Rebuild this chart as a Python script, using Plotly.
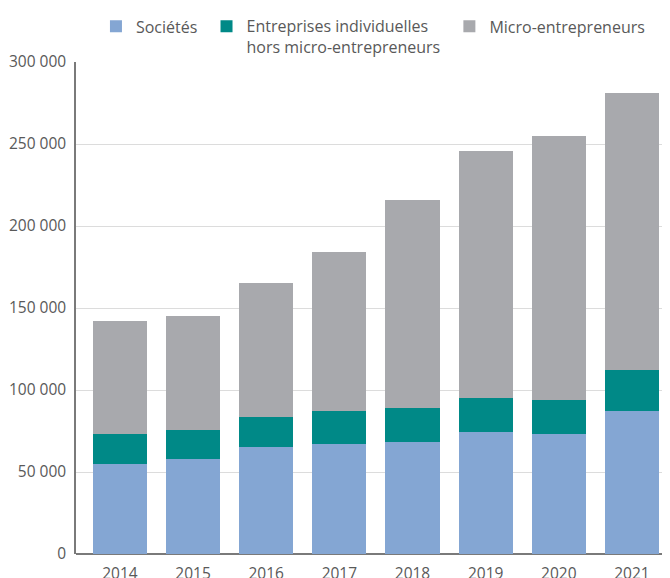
import plotly.graph_objects as go

years = ["2014", "2015", "2016", "2017", "2018", "2019", "2020", "2021"]
societes = [55000, 58100, 65300, 67100, 68300, 74400, 73200, 87200]
entreprises_indiv = [18200, 17500, 18300, 20100, 20800, 20800, 20700, 25000]
micro_entrepreneurs = [68900, 69600, 81700, 97000, 126900, 150600, 161100, 169000]

y_ticks = [0, 50000, 100000, 150000, 200000, 250000, 300000]

NB = "\u00a0"
series = [
    ("Sociétés" + NB, societes, "#84A6D3"),
    ("Entreprises individuelles<br>hors micro-entrepreneurs" + NB, entreprises_indiv, "#008987"),
    ("Micro-entrepreneurs", micro_entrepreneurs, "#A8A9AD"),
]

fig = go.Figure()
for name, vals, col in series:
    fig.add_trace(go.Bar(x=years, y=vals, name=name, marker=dict(color=col, line=dict(width=0))))

fig.update_layout(
    width=670, height=578,
    barmode="stack", bargap=0.26,
    separators=", ",
    plot_bgcolor="white", paper_bgcolor="white",
    font=dict(family="Open Sans", size=15.5, color="#595959"),
    margin=dict(l=68, r=8, t=54, b=32, autoexpand=False),
    showlegend=True,
    legend=dict(
        orientation="h", x=0.0336, xanchor="left", y=1.107, yanchor="top",
        valign="top", traceorder="normal",
        font=dict(family="Open Sans", size=16, color="#595959"),
        itemwidth=30,
    ),
    xaxis=dict(
        range=[-0.6, 7.52], showline=False, ticks="",
        showgrid=False, automargin=False, ticklabelstandoff=8,
    ),
    yaxis=dict(
        range=[0, 300000], tickvals=y_ticks, tickformat=",d",
        showline=True, linecolor="#7A7A7A", linewidth=1.5,
        showgrid=True, gridcolor="#DCDCDC", gridwidth=1,
        zeroline=True, zerolinecolor="#7A7A7A", zerolinewidth=1.5,
        ticks="", ticklabelstandoff=5, automargin=False,
    ),
)

fig.write_html("out.html")
